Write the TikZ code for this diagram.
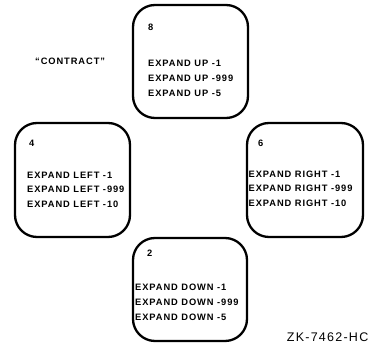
\documentclass[tikz,border=0pt]{standalone}
\usepackage{fontspec}
\setmainfont{Liberation Sans}
\newfontfamily\boxfont[LetterSpace=10,Ligatures=TeX]{Liberation Sans Bold}
\newfontfamily\idfont[LetterSpace=10]{Liberation Sans}
\begin{document}
\begin{tikzpicture}[x=1pt,y=-1pt,
  roundbox/.style={draw,line width=2.3pt,rounded corners=22pt,inner sep=0pt},
  lbl/.style={anchor=west,inner sep=0pt,font=\boxfont\fontsize{9.3}{11}\selectfont},
  idlbl/.style={anchor=east,inner sep=0pt,font=\idfont\fontsize{12.5}{14}\selectfont}]
\useasboundingbox (0,0) rectangle (370,344);
% boxes
\node[roundbox,minimum width=115pt,minimum height=113pt] (up) at (190.5,61.5) {};
\node[roundbox,minimum width=115pt,minimum height=114pt] (left) at (72.5,180) {};
\node[roundbox,minimum width=116pt,minimum height=114pt] (right) at (305,180) {};
\node[roundbox,minimum width=114pt,minimum height=103pt] (down) at (190,289.5) {};
% top box text
\node[lbl] (n8) at (148,27) {8};
\node[lbl] (u1) at (148,63) {EXPAND UP -1};
\node[lbl] (u2) at (148,78) {EXPAND UP -999};
\node[lbl] (u3) at (148,93) {EXPAND UP -5};
% left box text
\node[lbl] (n4) at (29,143) {4};
\node[lbl] (l1) at (27,175) {EXPAND LEFT -1};
\node[lbl] (l2) at (27,189.5) {EXPAND LEFT -999};
\node[lbl] (l3) at (27,204) {EXPAND LEFT -10};
% right box text
\node[lbl] (n6) at (258,143) {6};
\node[lbl] (r1) at (248.5,174) {EXPAND RIGHT -1};
\node[lbl] (r2) at (248.5,188.5) {EXPAND RIGHT -999};
\node[lbl] (r3) at (248.5,203) {EXPAND RIGHT -10};
% bottom box text
\node[lbl] (n2) at (147,253) {2};
\node[lbl] (d1) at (135,287) {EXPAND DOWN -1};
\node[lbl] (d2) at (135,302) {EXPAND DOWN -999};
\node[lbl] (d3) at (135,317) {EXPAND DOWN -5};
% other labels
\node[lbl] (contract) at (35,61) {``CONTRACT''};
\node[idlbl] (id) at (368.5,337) {ZK-7462-HC};
\end{tikzpicture}
\end{document}
